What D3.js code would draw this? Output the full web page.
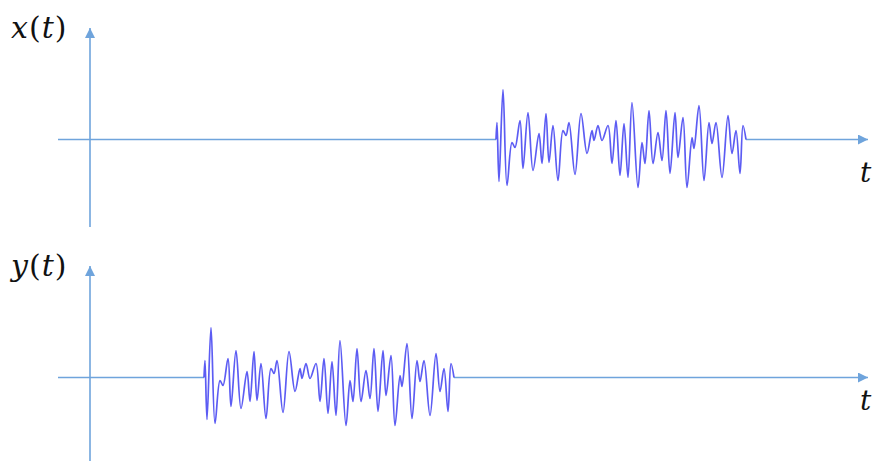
<!DOCTYPE html>
<html><head><meta charset="utf-8">
<script src="https://cdn.jsdelivr.net/npm/d3@7"></script>
<style>body{margin:0;background:#fff}svg{display:block}</style>
</head><body><div id="chart"></div>
<script>
// Burst waveform: time offsets (units) and amplitudes
const burstTime = [0,0.5,1.5,3.5,5.5,8,9.5,12,13.5,16,18.5,21.5,23,25,26.5,28.5,31,33.5,35,36.5,39.5,42.5,45.5,48,49,51,53,56,58,60,62,64,66,68,71,73,74.5,76.5,78.5,81,83,85,87,89.5,91,93.5,95.5,98,99,101.5,104,106.5,108,110,113,116,118,120,122,123.5,125];
const burstAmp = [0,1.7,-4.2,5.0,-4.6,-0.3,-0.8,1.9,-2.9,2.7,-3.1,0.6,-2.4,2.6,-2.3,1.4,-4.1,0.9,0.4,1.7,-3.5,2.6,-1.4,0.9,-0.1,1.4,-0.1,1.4,-2.4,1.9,-3.6,1.6,-3.8,3.7,-4.8,-0.3,-2.4,2.9,-2.4,0.7,-2.1,2.9,-3.4,2.7,-1.8,2.2,-4.8,0.2,-0.9,3.4,-4.1,1.7,-0.4,1.7,-3.8,2.4,-1.4,0.9,-3.4,1.4,0];
const panelNames = ["x", "y"];
const burstStarts = [203, 57];
const axisLabel = "t";

const W = 875, H = 461;
const svg = d3.select("#chart").append("svg").attr("width", W).attr("height", H);
const axisColor = "#6fa4dc";
const sigColor = "#4a4af2";

const x = d3.scaleLinear().domain([0, 385]).range([90, 860]);

const panels = [
  {base: 139.5, top: 28, bottom: 227, labelY: 38, tY: 182},
  {base: 377.5, top: 266, bottom: 461, labelY: 276, tY: 410}
];

const defs = svg.append("defs");
defs.append("marker").attr("id","arr").attr("viewBox","0 0 10 10")
  .attr("refX",10).attr("refY",5).attr("markerWidth",10).attr("markerHeight",10)
  .attr("markerUnits","userSpaceOnUse").attr("orient","auto")
  .append("path").attr("d","M0,0L10,5L0,10Z").attr("fill", axisColor);

const fam = "'DejaVu Serif', 'Liberation Serif', serif";

panels.forEach((p, i) => {
  const y = d3.scaleLinear().domain([-5, 5]).range([p.base + 50, p.base - 50]);
  const g = svg.append("g");
  g.append("line").attr("x1", 58).attr("x2", 868).attr("y1", y(0)).attr("y2", y(0))
    .attr("stroke", axisColor).attr("stroke-width", 1.6).attr("marker-end","url(#arr)");
  g.append("line").attr("x1", x(0)).attr("x2", x(0)).attr("y1", p.bottom).attr("y2", p.top)
    .attr("stroke", axisColor).attr("stroke-width", 1.6).attr("marker-end","url(#arr)");
  const line = d3.line().x(d => x(burstStarts[i] + d[0])).y(d => y(d[1]))
    .curve(d3.curveCatmullRom.alpha(0.5));
  const pts = burstTime.map((t, k) => [t, burstAmp[k]]);
  g.append("rect").attr("x", x(burstStarts[i])).attr("y", y(0) - 1.5)
    .attr("width", x(burstStarts[i] + burstTime[burstTime.length-1]) - x(burstStarts[i]))
    .attr("height", 3).attr("fill", "#fff");
  g.append("path").attr("d", line(pts)).attr("fill","none")
    .attr("stroke", sigColor).attr("stroke-width", 1.7).attr("stroke-linejoin","round")
    .attr("stroke-opacity", 0.9);
  const lab = g.append("text").attr("x", 11).attr("y", p.labelY)
    .attr("font-family", fam).attr("font-size", 30).attr("fill", "#111").attr("letter-spacing", 1);
  lab.append("tspan").attr("font-style","italic").text(panelNames[i]);
  lab.append("tspan").text("(");
  lab.append("tspan").attr("font-style","italic").text(axisLabel);
  lab.append("tspan").text(")");
  g.append("text").attr("x", 860).attr("y", p.tY)
    .attr("font-family", fam).attr("font-size", 28)
    .attr("font-style","italic").attr("fill","#111").text(axisLabel);
});
</script></body></html>
